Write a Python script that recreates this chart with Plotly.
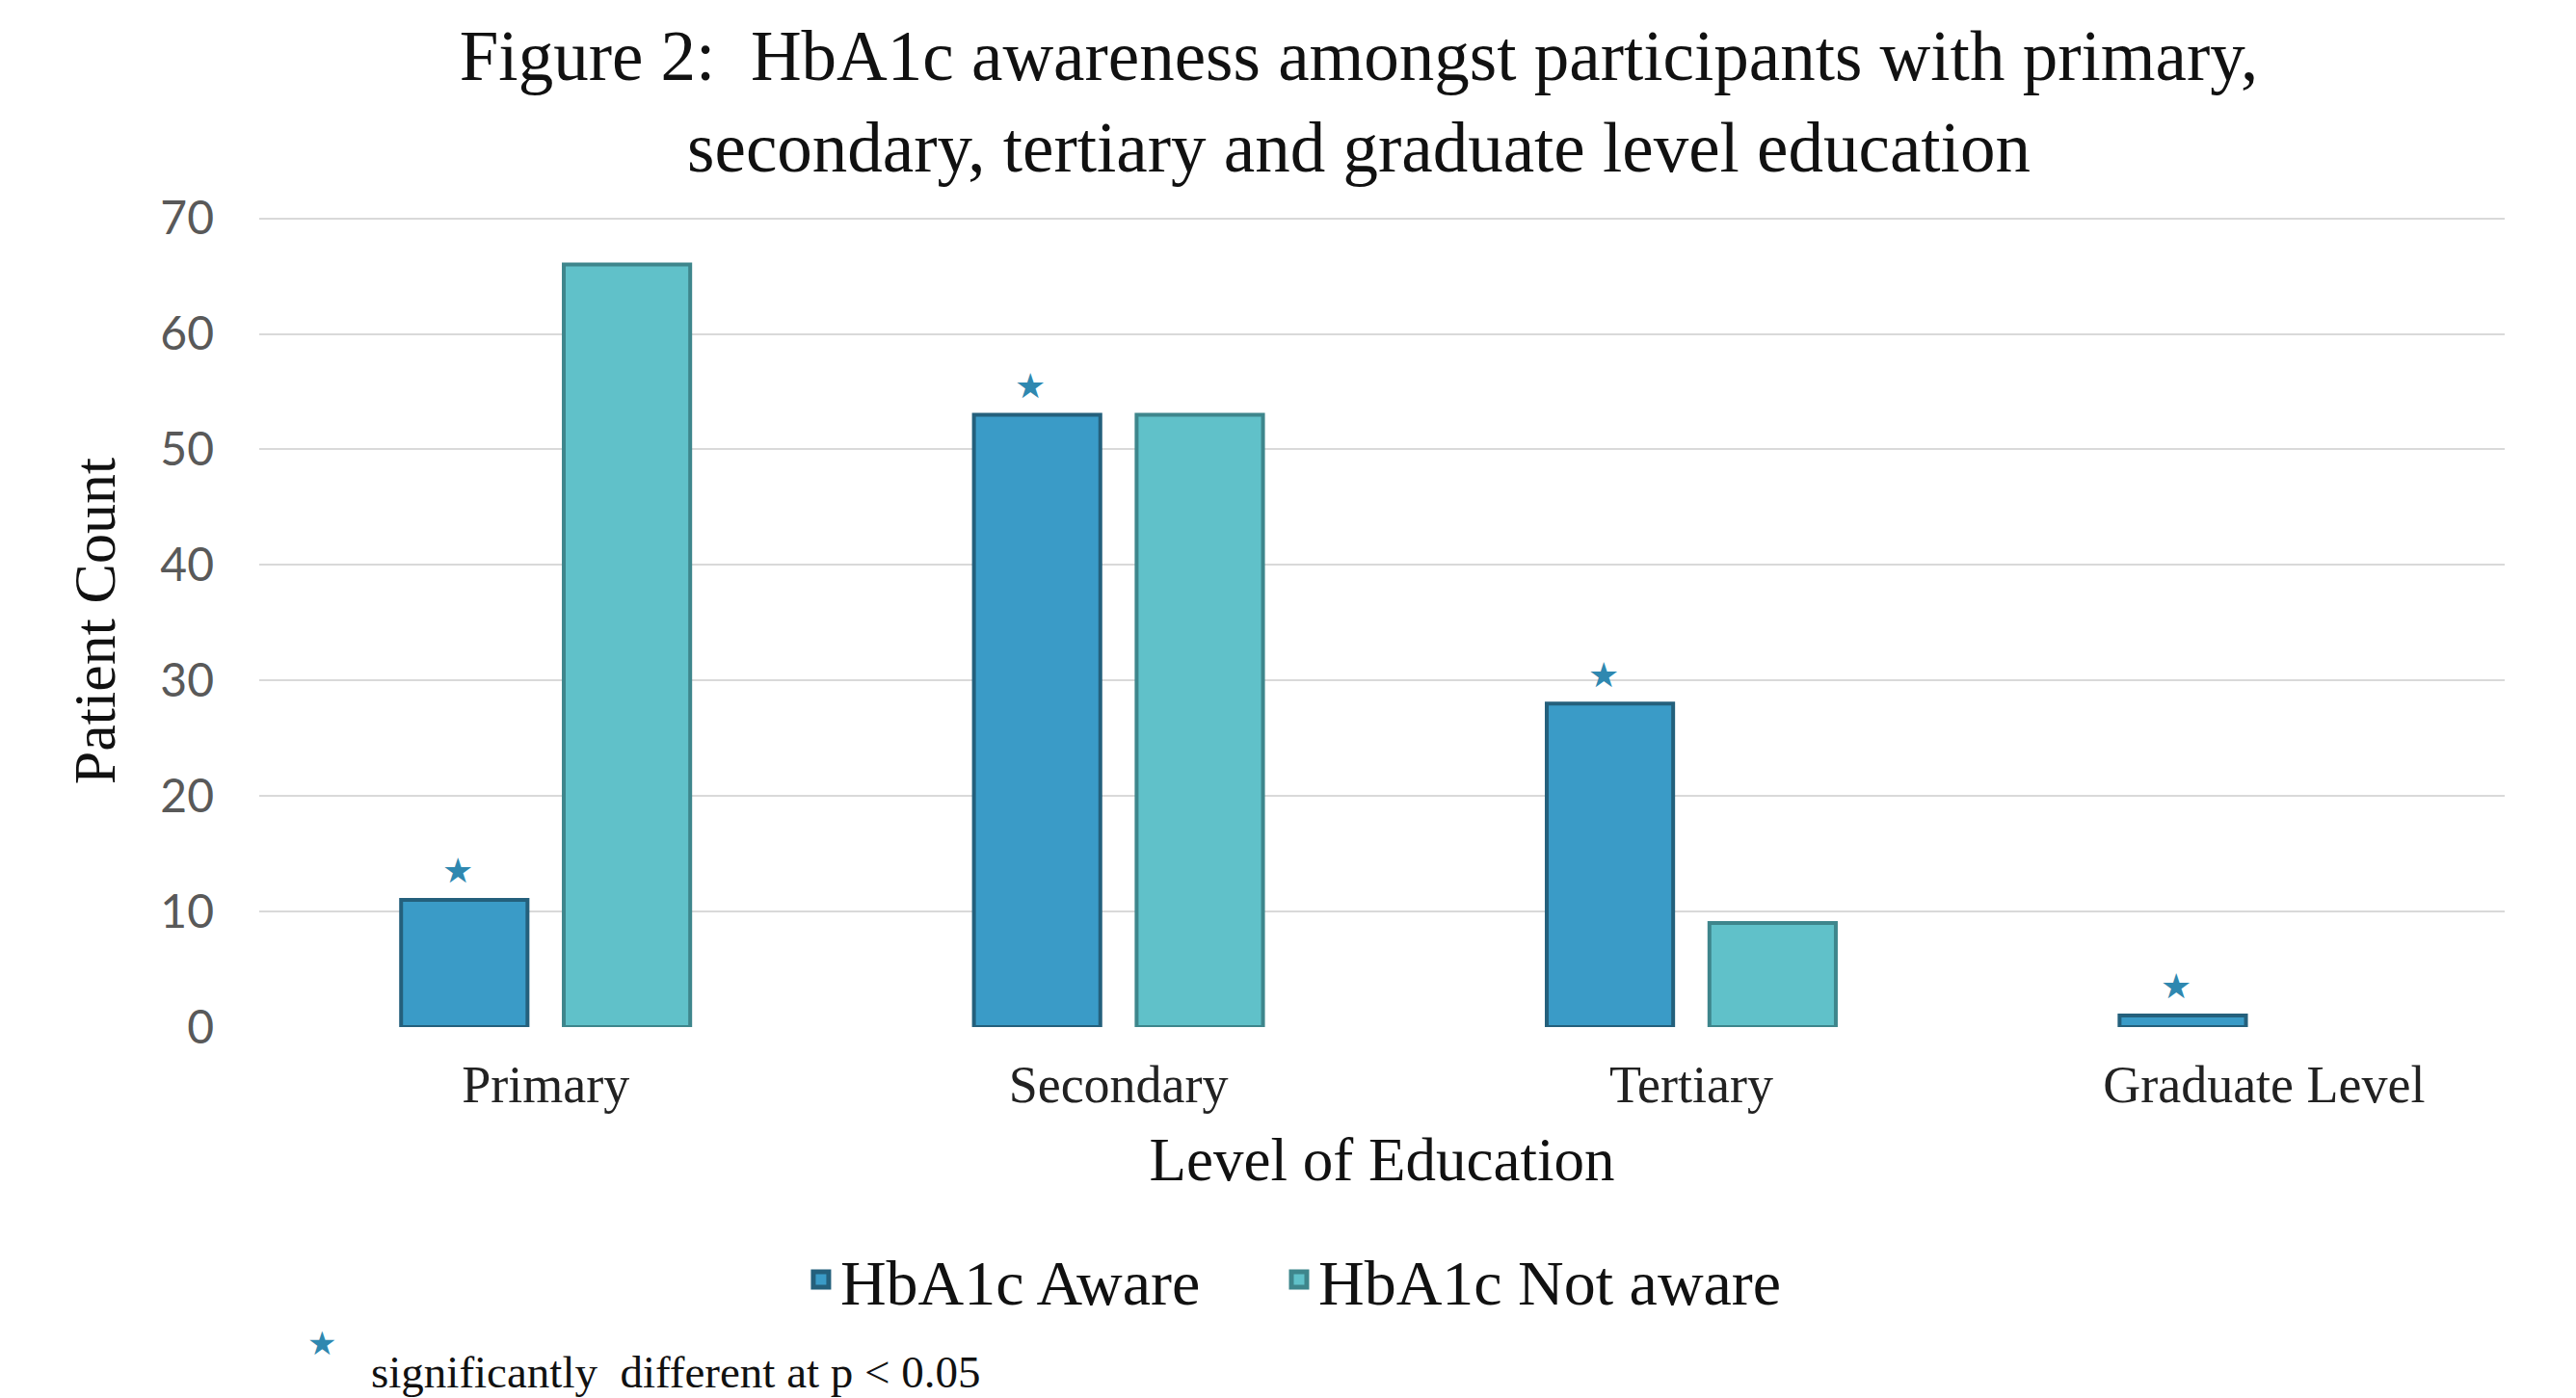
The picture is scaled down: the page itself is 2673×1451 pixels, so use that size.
import plotly.graph_objects as go

categories = ["Primary", "Secondary", "Tertiary", "Graduate Level"]
aware = [11, 53, 28, 1]
not_aware = [66, 53, 9, 0]
significant = [True, True, True, True]
y_ticks = [0, 10, 20, 30, 40, 50, 60, 70]
series_names = ["HbA1c Aware", "HbA1c Not aware"]

SERIF = "Liberation Serif, Times New Roman, serif"
SANS = "Lato, Open Sans, sans-serif"
AWARE_C = "#3A9BC7"
AWARE_EDGE = "#24607C"
NOT_C = "#60C1C9"
NOT_EDGE = "#3E868C"
STAR_C = "#2F88B0"

W, H = 2673, 1451
ML, MR, MT, MB = 269, 74, 223, 385

fig = go.Figure()
for vals, name, col, edge, leg in [(aware, series_names[0], AWARE_C, AWARE_EDGE, "legend"),
                                   (not_aware, series_names[1], NOT_C, NOT_EDGE, "legend2")]:
    fig.add_trace(go.Bar(
        x=categories, y=vals, name=name, legendgroup=name, showlegend=False,
        marker=dict(color=col, line=dict(color=edge, width=[4 if v > 0 else 0 for v in vals])),
    ))
    # legend entry with a larger square swatch
    fig.add_trace(go.Scatter(
        x=[None], y=[None], mode="markers", name=name, legendgroup=name, legend=leg,
        marker=dict(symbol="square", size=16, color=col, line=dict(color=edge, width=5)),
    ))

bargap = 0.432
bargroupgap = 0.223
x_range = [-0.5, 3.42]
plot_w = W - ML - MR
cat_px = plot_w / (x_range[1] - x_range[0])
slot_px = cat_px * (1 - bargap) / 2

# significance stars above the "aware" bars
star_offset = 2.6
for cat, val, sig in zip(categories, aware, significant):
    if sig:
        fig.add_annotation(
            x=cat, y=val + star_offset, text="★", showarrow=False,
            xshift=-slot_px / 2 - 7, font=dict(size=36, color=STAR_C),
            xref="x", yref="y",
        )

# footnote
fig.add_annotation(
    x=0.028, y=-0.388, xref="paper", yref="paper", text="★", showarrow=False,
    font=dict(size=34, color=STAR_C), xanchor="center", yanchor="middle",
)
fig.add_annotation(
    x=0.049, y=-0.425, xref="paper", yref="paper",
    text="significantly  different at p &lt; 0.05", showarrow=False,
    font=dict(size=47, color="#111111", family=SERIF), xanchor="left", yanchor="middle",
)

legend_common = dict(
    orientation="h", y=-0.311, yanchor="middle", xanchor="left",
    font=dict(family=SERIF, size=66, color="#111111"),
    itemwidth=30, bgcolor="rgba(0,0,0,0)",
)

fig.update_layout(
    width=W, height=H,
    margin=dict(l=ML, r=MR, t=MT, b=MB),
    paper_bgcolor="white", plot_bgcolor="white",
    barmode="group", bargap=bargap, bargroupgap=bargroupgap,
    title=dict(
        text="Figure 2:  HbA1c awareness amongst participants with primary,<br>secondary, tertiary and graduate level education",
        x=0.5275, xref="container", xanchor="center",
        y=0.9425, yref="container", yanchor="middle",
        font=dict(family=SERIF, size=73, color="#111111"),
    ),
    xaxis=dict(
        range=x_range, showgrid=False, showline=False, zeroline=False,
        tickfont=dict(family=SERIF, size=54, color="#222222"),
        ticklabelstandoff=23,
        title=dict(text="Level of Education", font=dict(family=SERIF, size=63, color="#111111"), standoff=25),
    ),
    yaxis=dict(
        range=[0, 70.3], tickvals=y_ticks, showgrid=True, gridcolor="#D9D9D9", gridwidth=2,
        zeroline=False, showline=False,
        tickfont=dict(family=SANS, size=48, color="#595959"),
        ticklabelstandoff=46,
        title=dict(text="Patient Count", font=dict(family=SERIF, size=62, color="#111111"), standoff=26),
    ),
    legend=dict(x=0.2416, **legend_common),
    legend2=dict(x=0.4545, **legend_common),
)

fig.write_html("out.html", config={"displayModeBar": False},
               post_script="document.body.style.margin='0px';")
